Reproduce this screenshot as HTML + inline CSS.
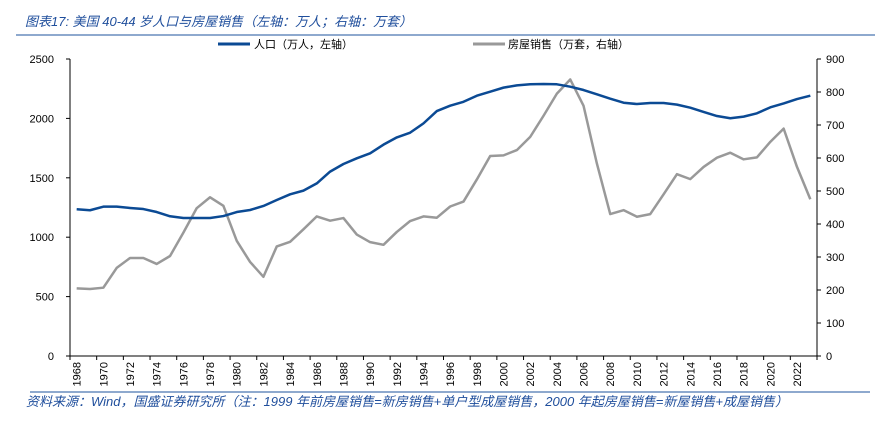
<!DOCTYPE html>
<html><head><meta charset="utf-8"><style>
body{margin:0;background:#fff;width:893px;height:429px;overflow:hidden}
svg{display:block;font-family:"Liberation Sans","Noto Sans CJK SC",sans-serif}
</style></head><body>
<svg id="chart" width="893" height="429">
<text x="25" y="26" font-size="13" font-style="italic" fill="#1f4e9c">图表17: 美国 40-44 岁人口与房屋销售（左轴：万人；右轴：万套）</text>
<line x1="16" y1="35" x2="875" y2="35" stroke="#4a76b0" stroke-width="1.2"/>
<g>
<line x1="218" y1="44" x2="250" y2="44" stroke="#0b4a94" stroke-width="3"/>
<text x="254" y="48" font-size="11" fill="#000">人口（万人，左轴）</text>
<line x1="473" y1="44" x2="505" y2="44" stroke="#999" stroke-width="3"/>
<text x="508" y="48" font-size="11" fill="#000">房屋销售（万套，右轴）</text>
</g>
<g id="axes"></g>
<g id="marks"></g>
<line x1="30" y1="392" x2="870" y2="392" stroke="#4a76b0" stroke-width="1.2"/>
<text x="26" y="406" font-size="13" font-style="italic" fill="#1f4e9c" textLength="762" lengthAdjust="spacingAndGlyphs">资料来源：Wind，国盛证券研究所（注：1999 年前房屋销售=新房销售+单户型成屋销售，2000 年起房屋销售=新屋销售+成屋销售）</text>
</svg>
<script>
const years=[1968,1969,1970,1971,1972,1973,1974,1975,1976,1977,1978,1979,1980,1981,1982,1983,1984,1985,1986,1987,1988,1989,1990,1991,1992,1993,1994,1995,1996,1997,1998,1999,2000,2001,2002,2003,2004,2005,2006,2007,2008,2009,2010,2011,2012,2013,2014,2015,2016,2017,2018,2019,2020,2021,2022,2023];
const population=[1235,1227,1257,1257,1246,1237,1212,1176,1162,1162,1162,1178,1212,1229,1263,1313,1361,1392,1453,1552,1616,1664,1706,1779,1840,1880,1958,2062,2107,2140,2191,2225,2259,2278,2287,2290,2287,2267,2239,2203,2166,2132,2121,2130,2130,2116,2090,2054,2020,2001,2015,2043,2093,2126,2163,2191];
const sales=[205,203,207,267,297,297,279,303,374,448,481,455,349,285,240,332,346,384,423,410,418,368,345,337,376,409,423,419,453,468,535,606,608,624,664,728,795,838,758,583,430,442,422,430,490,551,536,573,601,616,596,602,649,689,573,475];
const leftTicks=[0,500,1000,1500,2000,2500];
const rightTicks=[0,100,200,300,400,500,600,700,800,900];
const NS='http://www.w3.org/2000/svg';
const X0=70,X1=817,Y0=356,Y1=59;
const step=(X1-X0)/years.length;
const xPos=i=>X0+step*(i+0.5);
const yL=v=>Y0-(v/2500)*(Y0-Y1);
const yR=v=>Y0-(v/900)*(Y0-Y1);
function mk(tag,attrs,parent){const e=document.createElementNS(NS,tag);for(const k in attrs)e.setAttribute(k,attrs[k]);parent.appendChild(e);return e;}
const ax=document.getElementById('axes'),mg=document.getElementById('marks');
let e;
e=mk('line',{x1:X0,y1:Y1,x2:X0,y2:Y0,stroke:'#000','stroke-width':1},ax);


e=mk('line',{x1:X1,y1:Y1,x2:X1,y2:Y0,stroke:'#000','stroke-width':1},ax);


e=mk('line',{x1:X0,y1:Y0,x2:X1,y2:Y0,stroke:'#000','stroke-width':1},ax);


leftTicks.forEach(v=>{const y=yL(v);
 mk('line',{x1:X0-4,y1:y,x2:X0,y2:y,stroke:'#000'},ax);
 e=mk('text',{x:54,y:y+4,'font-size':11,'text-anchor':'end',fill:'#000'},ax);e.textContent=v;
 
 });
rightTicks.forEach(v=>{const y=yR(v);
 mk('line',{x1:X1,y1:y,x2:X1+4,y2:y,stroke:'#000'},ax);
 e=mk('text',{x:826,y:y+4,'font-size':11,fill:'#000'},ax);e.textContent=v;
 
 });
years.forEach((yr,i)=>{
 if(i%2===0){mk('line',{x1:X0+step*i,y1:Y0,x2:X0+step*i,y2:Y0+4,stroke:'#000'},ax);
  const cx=xPos(i)+4;
  e=mk('text',{x:0,y:0,'font-size':11,'text-anchor':'end',fill:'#000',transform:`translate(${cx},362) rotate(-90)`},ax);e.textContent=yr;
  
  }
});
mk('line',{x1:X1,y1:Y0,x2:X1,y2:Y0+4,stroke:'#000'},ax);
e=mk('polyline',{points:sales.map((v,i)=>xPos(i)+','+yR(v)).join(' '),fill:'none',stroke:'#999','stroke-width':2.5,'stroke-linejoin':'round'},mg);


e=mk('polyline',{points:population.map((v,i)=>xPos(i)+','+yL(v)).join(' '),fill:'none',stroke:'#0b4a94','stroke-width':2.5,'stroke-linejoin':'round'},mg);


</script>
</body></html>
